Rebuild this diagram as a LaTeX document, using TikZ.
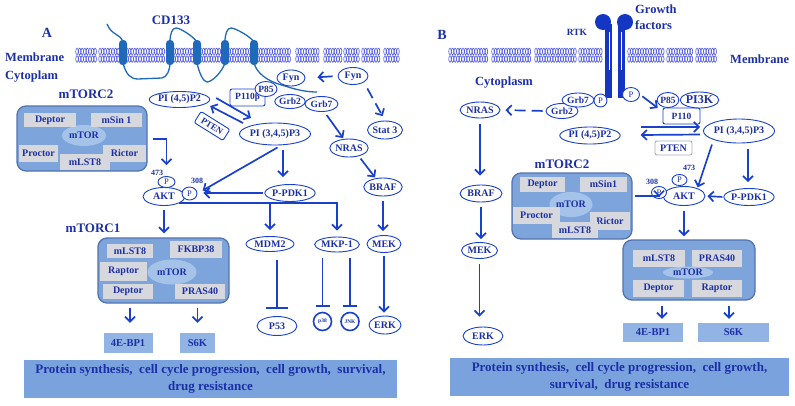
\documentclass[tikz,border=0pt]{standalone}
\usepackage{fontspec}
\setmainfont{Liberation Serif}
\usetikzlibrary{shapes.geometric,arrows.meta}
\definecolor{tblue}{RGB}{28,48,165}
\definecolor{lblue}{RGB}{25,65,205}
\definecolor{memb}{RGB}{80,92,225}
\definecolor{cdblue}{RGB}{30,105,185}
\definecolor{rtkblue}{RGB}{20,55,195}
\definecolor{boxfill}{RGB}{125,165,220}
\definecolor{boxedge}{RGB}{85,115,175}
\definecolor{subgray}{RGB}{215,216,222}
\definecolor{torfill}{RGB}{165,195,232}
\definecolor{effill}{RGB}{145,180,228}
\definecolor{banfill}{RGB}{122,163,222}
\definecolor{ptengray}{RGB}{170,172,185}
\newcommand{\myfs}[1]{\fontsize{#1}{#1}\selectfont}
\begin{document}
\begin{tikzpicture}[x=1pt,y=-1pt,
  sz/.style 2 args={minimum width=#1pt, minimum height=#2pt},
  el/.style={ellipse, draw=lblue, line width=0.9pt, fill=white, inner sep=0pt, text=tblue, font=\bfseries\myfs{10}},
  pb/.style={ellipse, draw=lblue, line width=0.9pt, fill=white, inner sep=0pt, text=tblue, font=\myfs{8.5}},
  rbox/.style={rectangle, draw=lblue, line width=0.9pt, rounded corners=2pt, fill=white, inner sep=0pt, text=tblue, font=\bfseries\myfs{9.5}},
  lab/.style={text=tblue, font=\bfseries\myfs{12.5}, inner sep=0pt},
  num/.style={text=tblue, font=\bfseries\myfs{8}, inner sep=0pt},
  arr/.style={draw=lblue, line width=1.7pt, -{Straight Barb[length=5pt,width=10pt]}},
  darr/.style={arr, dash pattern=on 11pt off 6pt},
  inh/.style={draw=lblue, line width=1.6pt, -{Bar[width=#1, line width=2pt]}},
  cplx/.style={rectangle, rounded corners=9pt, fill=boxfill, draw=boxedge, line width=1.3pt, inner sep=0pt},
  sub/.style={rectangle, fill=subgray, inner sep=0pt, text=tblue, font=\bfseries\myfs{10}},
  tor/.style={ellipse, fill=torfill, inner sep=0pt, text=tblue, font=\bfseries\myfs{10}},
  eff/.style={rectangle, fill=effill, inner sep=0pt, text=tblue, font=\bfseries\myfs{10.5}},
  banner/.style={rectangle, fill=banfill, inner sep=0pt, text=tblue, align=center, font=\bfseries\fontsize{13}{16.5}\selectfont},
  lip/.style={draw=memb, line width=0.65pt}
]
\useasboundingbox (0,0) rectangle (795,405);

% ================= membranes =================
\foreach \a/\b in {77/97, 100/120, 127/166, 174/194, 201/222, 229/251, 258/290, 297/320, 325/341, 345/359, 363/381, 385/399,
                   450/489, 493/532, 536/576, 580/601, 629/664, 668/693, 697/717}{
  \pgfmathsetmacro{\c}{\a+2.6}
  \foreach \x in {\a,\c,...,\b}{
    \draw[lip] (\x,51.5) ellipse [x radius=1.25pt, y radius=3.3pt];
    \draw[lip] (\x,59) ellipse [x radius=1.25pt, y radius=3.3pt];
  }
}

% ================= CD133 =================
\begin{scope}[draw=cdblue, line width=1.3pt]
\draw (107,24) .. controls (112,36) and (120,33) .. (123,42);
\draw (123,63) .. controls (126,74) and (130,79) .. (138,79) -- (162,78) .. controls (167,77) and (170,70) .. (170,63);
\draw (170,42) .. controls (170,34) and (172,28) .. (176,28) .. controls (180,28) and (193,36) .. (197,42);
\draw (197,63) .. controls (199,72) and (203,82) .. (207,82) .. controls (212,82) and (222,72) .. (225,63);
\draw (225,42) .. controls (225,34) and (227,28) .. (231,28) .. controls (235,28) and (250,36) .. (254,42);
\draw (254,63) .. controls (257,73) and (266,81) .. (285,86) .. controls (297,90) and (307,92) .. (317,92);
\end{scope}
\foreach \hx in {123,170,197,225,254}{
  \fill[cdblue, rounded corners=3.5pt] (\hx-4,40) rectangle (\hx+4,65);
}

% ================= RTK =================
\fill[rtkblue] (605,24) rectangle (612,98);
\fill[rtkblue] (618,24) rectangle (625,98);
\fill[rtkblue] (603,22) circle [radius=8pt];
\fill[rtkblue] (625,22) circle [radius=8pt];
\draw[white, line width=0.6pt] (609,32) -- (609,70);
\draw[white, line width=0.6pt] (621,32) -- (621,70);

% ================= Panel A labels =================
\node[lab, font=\bfseries\myfs{14}] (labA) at (47,33) {A};
\node[lab, font=\bfseries\myfs{13}] (cd133) at (171,20) {CD133};
\node[lab, anchor=west] (membA) at (5,57) {Membrane};
\node[lab, anchor=west] (cytA) at (5,77) {Cytoplam};
\node[lab, font=\bfseries\myfs{13}] (m2labA) at (86,94) {mTORC2};
\node[lab, font=\bfseries\myfs{13}] (m1labA) at (93,228) {mTORC1};

% mTORC2 (A)
\node[cplx, sz={130}{65}] (c2A) at (82,138.5) {};
\node[tor, sz={44}{21}] (torA2) at (84,135.5) {mTOR};
\node[sub, sz={52}{14}] (deptA2) at (50,120) {Deptor};
\node[sub, sz={51}{14}] (msinA) at (116.5,120) {mSin 1};
\node[sub, sz={39}{17}] (procA) at (38.5,153.5) {Proctor};
\node[sub, sz={50}{16}] (mlstA2) at (85,162) {mLST8};
\node[sub, sz={43}{17}] (ricA) at (124.5,153.5) {Rictor};

% mTORC1 (A)
\node[cplx, sz={131}{65}] (c1A) at (163.5,270.5) {};
\node[tor, sz={49}{25}] (torA1) at (172,272) {mTOR};
\node[sub, sz={46}{14}] (mlstA1) at (130,251) {mLST8};
\node[sub, sz={52}{17}] (fkbA) at (196,249.5) {FKBP38};
\node[sub, sz={47}{19}] (rapA) at (123.5,271.5) {Raptor};
\node[sub, sz={50}{15}] (deptA1) at (128,291.5) {Deptor};
\node[sub, sz={50}{15}] (prasA) at (200,291.5) {PRAS40};

\node[eff, sz={49}{20}] (ebpA) at (128,343) {4E-BP1};
\node[eff, sz={35}{20}] (s6kA) at (197.5,343) {S6K};

% signalling nodes (A)
\node[el, sz={55}{16}] (pip2A) at (179.5,99.5) {PI (4,5)P2};
\node[el, sz={64}{22}] (pip3A) at (275,134) {PI (3,4,5)P3};
\node[rbox, rotate=-32, sz={34}{13}, font=\bfseries\myfs{9}] (ptenA) at (212,126) {PTEN};
\node[rbox, sz={35}{17}] (p110A) at (247.5,97.5) {P110β};
\node[el, sz={22}{15}, font=\bfseries\myfs{9.5}] (p85A) at (266,89) {P85};
\node[el, sz={28}{16}] (fyn1A) at (291,78) {Fyn};
\node[el, sz={30}{17}] (fyn2A) at (353,76) {Fyn};
\node[el, sz={28}{14}, font=\bfseries\myfs{9.5}] (grb2A) at (290,101.5) {Grb2};
\node[el, sz={33}{15}, font=\bfseries\myfs{9.5}] (grb7A) at (321.5,104) {Grb7};
\node[el, sz={34}{18}] (statA) at (385,130) {Stat 3};
\node[el, sz={36}{18}] (nrasA) at (349,148) {NRAS};
\node[el, sz={36}{18}] (brafA) at (383,187) {BRAF};
\node[el, sz={34}{17}] (mekA) at (384,244) {MEK};
\node[el, sz={32}{18}] (erkA) at (385,325) {ERK};
\node[el, sz={42}{18}] (aktA) at (164,196.5) {AKT};
\node[pb, sz={17}{11}] (p473A) at (166.5,182) {P};
\node[pb, sz={15}{13}] (p308A) at (189.5,193.5) {P};
\node[num] (n473A) at (157,173) {473};
\node[num] (n308A) at (197,181) {308};
\node[el, sz={50}{17}] (ppdkA) at (290,193) {P-PDK1};
\node[el, sz={48}{15}] (mdmA) at (270,244) {MDM2};
\node[el, sz={40}{15}] (mkpA) at (337,244.5) {MKP-1};
\node[el, sz={40}{19}] (p53A) at (277,326) {P53};
\node[circle, draw=lblue, line width=1.6pt, minimum size=18pt, inner sep=0pt, text=tblue, font=\bfseries\myfs{5.5}] (p38A) at (322.5,321.5) {p38};
\node[circle, draw=lblue, line width=1.6pt, minimum size=18pt, inner sep=0pt, text=tblue, font=\bfseries\myfs{5.5}] (jnkA) at (350,321.5) {JNK};

\node[banner, sz={373}{38}] (banA) at (210.5,379) {Protein synthesis,\ \ cell cycle progression,\ \ cell growth,\ \ survival,\\drug resistance};

% connectors (A)
\draw[arr] ([shift={(6,-1.5)}]pip2A.east) -- ([shift={(12,-16)}]pip3A.west);
\draw[arr] ([shift={(4,-11)}]pip3A.west) -- ([shift={(0,6.5)}]pip2A.east);
\draw[arr, shorten <=5pt, shorten >=12pt] (fyn2A.west) -- (fyn1A.east);
\draw[darr, shorten <=7pt, shorten >=5pt] (fyn2A.south east) -- (statA.north);
\draw[arr, shorten <=4pt, shorten >=1pt] (grb7A.-70) -- (nrasA.120);
\draw[arr, shorten <=3pt, shorten >=1pt] (nrasA.-40) -- (brafA.130);
\draw[arr, shorten <=5pt, shorten >=4pt] (brafA.south) -- (brafA.south |- mekA.north);
\draw[arr, shorten <=3pt, shorten >=3pt] (mekA.south) -- (mekA.south |- erkA.north);
\draw[arr, shorten <=5pt, shorten >=11pt] ([yshift=-0.5pt]c2A.east) -| (p473A.north);
\draw[arr, shorten <=4pt, shorten >=6pt] ([xshift=6pt]pip3A.south) -- (p308A.east);
\draw[arr, shorten <=5pt, shorten >=7pt] ([xshift=8pt]pip3A.south) -- ([xshift=-7pt]ppdkA.north);
\draw[arr, shorten <=1pt, shorten >=6pt] (ppdkA.west) -- (p308A.east |- ppdkA.west);
\draw[arr, shorten >=6pt] (aktA.south east) -- (aktA.south east -| mkpA.north) -- (mkpA.north);
\draw[arr, shorten >=6pt] (aktA.south east -| mdmA.north) -- (mdmA.north);
\draw[arr, shorten <=4pt, shorten >=4pt] (aktA.south) -- (aktA.south |- c1A.north);
\draw[inh=22pt, shorten <=8pt, shorten >=7pt] (p53A.north |- mdmA.south) -- (p53A.north);
\draw[inh=14pt, shorten <=6pt, shorten >=5pt] (p38A.north |- mkpA.south) -- (p38A.north);
\draw[inh=14pt, shorten <=6pt, shorten >=5pt] (jnkA.north |- mkpA.south) -- (jnkA.north);
\draw[arr, shorten <=4pt, shorten >=10pt] ([xshift=2pt]ebpA.north |- c1A.south) -- ([xshift=2pt]ebpA.north);
\draw[arr, shorten <=4pt, shorten >=10pt] (s6kA.north |- c1A.south) -- (s6kA.north);

% ================= Panel B =================
\node[lab, font=\bfseries\myfs{14}] (labB) at (442,35) {B};
\node[lab, font=\bfseries\myfs{9.5}] (rtk) at (577,32) {RTK};
\node[lab, anchor=west, align=left, font=\bfseries\fontsize{12.5}{16}\selectfont] (gf) at (635,17) {Growth\\factors};
\node[lab, anchor=west] (membB) at (730,59) {Membrane};
\node[lab] (cytB) at (504,83) {Cytoplasm};
\node[lab, font=\bfseries\myfs{13}] (m2labB) at (562,164) {mTORC2};

% mTORC2 (B)
\node[cplx, sz={120}{66}] (c2B) at (572,206) {};
\node[tor, sz={43}{25}] (torB2) at (571,204.5) {mTOR};
\node[sub, sz={45}{15}] (deptB2) at (542.5,184.5) {Deptor};
\node[sub, sz={47}{15}] (msinB) at (603.5,184.5) {mSin1};
\node[sub, sz={47}{17}] (procB) at (536.5,215.5) {Proctor};
\node[sub, sz={40}{18}] (ricB) at (610,221) {Rictor};
\node[sub, sz={46}{16}] (mlstB2) at (575,230) {mLST8};

% mTORC1 (B)
\node[cplx, sz={132}{60}] (c1B) at (689,270) {};
\node[sub, sz={52}{17}] (mlstB1) at (659,258.5) {mLST8};
\node[sub, sz={50}{17}] (prasB) at (717,258.5) {PRAS40};
\node[sub, sz={51}{17}] (deptB1) at (658.5,288.5) {Deptor};
\node[sub, sz={50}{17}] (rapB) at (717,288.5) {Raptor};
\node[tor, sz={50}{12}] (torB1) at (688,272.5) {mTOR};

\node[eff, sz={60}{19}] (ebpB) at (653,332.5) {4E-BP1};
\node[eff, sz={71}{19}] (s6kB) at (733.5,332.5) {S6K};

% signalling nodes (B)
\node[el, sz={32}{15}, font=\bfseries\myfs{9.5}] (grb2B) at (562,111) {Grb2};
\node[el, sz={32}{14}, font=\bfseries\myfs{9.5}] (grb7B) at (578,100) {Grb7};
\node[pb, sz={13}{13}] (pLB) at (600.5,100.5) {P};
\node[pb, sz={17}{14}] (pRB) at (631,94.5) {P};
\node[el, sz={40}{16}] (nrasB) at (480,110) {NRAS};
\node[el, sz={42}{17}] (brafB) at (481,193.5) {BRAF};
\node[el, sz={36}{16}] (mekB) at (479.5,250.5) {MEK};
\node[el, sz={40}{18}] (erkB) at (483,336) {ERK};
\node[rbox, sz={37}{16}] (p110B) at (681.5,116) {P110};
\node[el, sz={20}{15}, font=\bfseries\myfs{9.5}] (p85B) at (668,100) {P85};
\node[el, sz={36}{16}, font=\bfseries\myfs{12}] (pi3kB) at (699.5,100) {PI3K};
\node[el, sz={54}{17}] (pip2B) at (590,135.5) {PI (4,5)P2};
\node[el, sz={60}{24}] (pip3B) at (739,131) {PI (3,4,5)P3};
\node[rbox, draw=ptengray, sz={37}{14}, font=\bfseries\myfs{10}] (ptenB) at (673.5,148) {PTEN};
\node[el, sz={42}{19}] (aktB) at (684,196) {AKT};
\node[pb, sz={15}{12}] (p308B) at (659,192.5) {P};
\node[pb, sz={15}{11}] (p473B) at (679.5,180) {P};
\node[num] (n308B) at (652,182) {308};
\node[num] (n473B) at (689,168) {473};
\node[el, sz={46}{17}] (ppdkB) at (749,197) {P-PDK1};

\node[banner, sz={339}{38}] (banB) at (619.5,377) {Protein synthesis,\ \ cell cycle progression,\ \ cell growth,\\survival,\ \ drug resistance};

% connectors (B)
\draw[darr, shorten <=3pt, shorten >=5pt] (grb2B.west) -- (nrasB.east);
\draw[arr, shorten <=3pt, shorten >=1pt] (pRB.east) -- ([shift={(-4,1)}]p110B.north west);
\draw[arr] ([shift={(20,-8.5)}]pip2B.east) -- ([shift={(-3,-4)}]pip3B.west);
\draw[arr] ([shift={(-3,3.5)}]pip3B.west) -- ([shift={(20,-0.5)}]pip2B.east);
\draw[arr, shorten <=5pt, shorten >=1pt] (pip3B.south west) -- (aktB.30);
\draw[arr, shorten <=6pt, shorten >=6pt] ([xshift=9pt]pip3B.south) -- ([xshift=-1pt]ppdkB.north);
\draw[arr, shorten <=1pt, shorten >=2pt] (ppdkB.west) -- (aktB.east);
\draw[arr, shorten <=2pt, shorten >=2pt] ([yshift=10pt]c2B.east) -| (p308B.south);
\draw[arr, shorten <=5pt, shorten >=3pt] (aktB.south) -- (aktB.south |- c1B.north);
\draw[arr, shorten <=6pt, shorten >=9pt] (nrasB.south) -- (nrasB.south |- brafB.north);
\draw[arr, shorten <=5pt, shorten >=3pt] (brafB.south) -- (brafB.south |- mekB.north);
\draw[arr, shorten <=5pt, shorten >=10pt] (mekB.south) -- (mekB.south |- erkB.north);
\draw[arr, shorten <=5pt, shorten >=4pt] ([xshift=9pt]ebpB.north |- c1B.south) -- ([xshift=9pt]ebpB.north);
\draw[arr, shorten <=5pt, shorten >=4pt] ([xshift=-4.5pt]s6kB.north |- c1B.south) -- ([xshift=-4.5pt]s6kB.north);
\end{tikzpicture}
\end{document}
